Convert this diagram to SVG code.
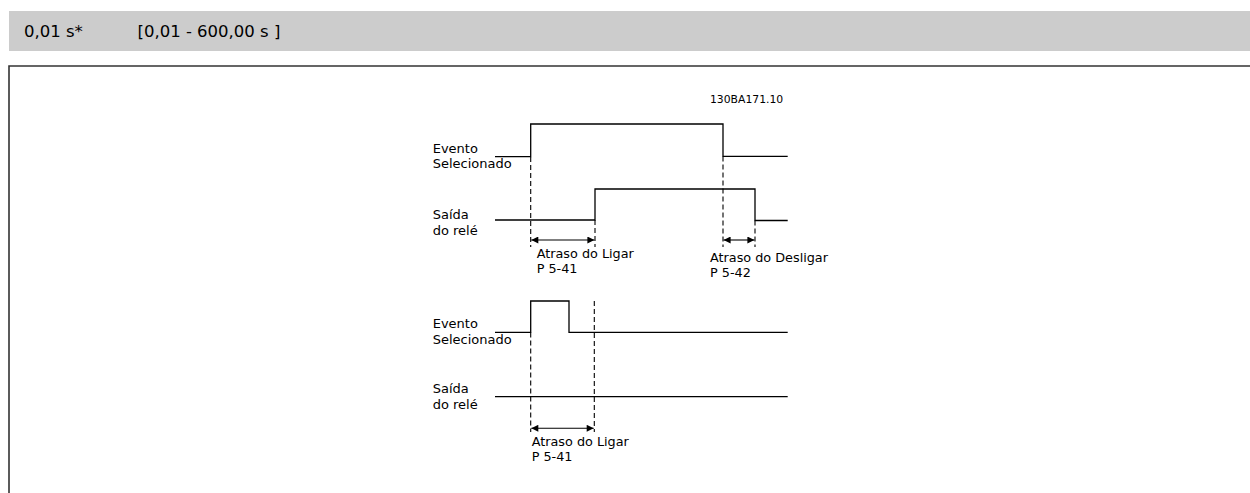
<svg xmlns="http://www.w3.org/2000/svg" width="1250" height="493" viewBox="0 0 1250 493">
<defs>
<style>
.sig{fill:none;stroke:#000;stroke-width:1.3}
.dash{fill:none;stroke:#000;stroke-width:1.1;stroke-dasharray:5,3}
.dim{fill:none;stroke:#000;stroke-width:1.1;marker-start:url(#ah);marker-end:url(#ah)}
.lbl{font-family:"DejaVu Sans",Verdana,sans-serif;font-size:13px;fill:#000}
.dl{font-family:"DejaVu Sans",Verdana,sans-serif;font-size:12.8px;fill:#000}
.hd{font-family:"DejaVu Sans",Verdana,sans-serif;font-size:16.5px;fill:#000}
</style>
<marker id="ah" viewBox="0 0 10 10" refX="10" refY="5" markerWidth="10" markerHeight="7" markerUnits="userSpaceOnUse" orient="auto-start-reverse">
<path d="M0,0 L10,5 L0,10 z" fill="#000"/>
</marker>
</defs>
<rect width="1250" height="493" fill="#fff"/>
<g id="header">
<rect x="9" y="11" width="1241" height="40" fill="#cccccc"/>
<text class="hd" x="24" y="37">0,01 s*</text>
<text class="hd" x="137.5" y="37">[0,01 - 600,00 s ]</text>
</g>
<g id="frame">
<path d="M9,493 V66 H1250" fill="none" stroke="#333" stroke-width="1.6"/>
</g>
<g id="code"><text class="dl" x="710" y="103" style="font-size:10.8px">130BA171.10</text></g>
<g id="top-event">
<path class="sig" d="M495,156.7 H530.7 V124 H723 V156.3 H787.7"/>
<text class="lbl" x="432.7" y="152.7">Evento</text>
<text class="lbl" x="432.7" y="168">Selecionado</text>
</g>
<g id="top-relay">
<path class="sig" d="M495,220 H595 V189 H755 V220.5 H787.7"/>
<text class="lbl" x="432.7" y="218.5">Saída</text>
<text class="lbl" x="432.7" y="234.5">do relé</text>
</g>
<g id="bottom-event">
<path class="sig" d="M495,332.3 H530.7 V301 H569 V332.3 H787.7"/>
<text class="lbl" x="432.7" y="327.5">Evento</text>
<text class="lbl" x="432.7" y="343.5">Selecionado</text>
</g>
<g id="bottom-relay">
<path class="sig" d="M495,396.7 H787.7"/>
<text class="lbl" x="432.7" y="393">Saída</text>
<text class="lbl" x="432.7" y="409">do relé</text>
</g>
<g id="connectors">
<path class="dash" d="M530.7,157 V247"/>
<path class="dash" d="M595,220 V247"/>
<path class="dash" d="M723,156.5 V247"/>
<path class="dash" d="M755,220.5 V247"/>
<path class="dim" d="M531.3,240 H594.4"/>
<path class="dim" d="M723.6,240 H754.4"/>
<path class="dash" d="M530.7,332.5 V432"/>
<path class="dash" d="M594.3,301 V432"/>
<path class="dim" d="M531.3,428.3 H593.7"/>
</g>
<g id="labels">
<text class="dl" x="536.7" y="258.3">Atraso do Ligar</text>
<text class="dl" x="536.7" y="273.3">P 5-41</text>
<text class="dl" x="710" y="261.5">Atraso do Desligar</text>
<text class="dl" x="710" y="277">P 5-42</text>
<text class="dl" x="531.7" y="445.5">Atraso do Ligar</text>
<text class="dl" x="531.7" y="461">P 5-41</text>
</g>
</svg>
